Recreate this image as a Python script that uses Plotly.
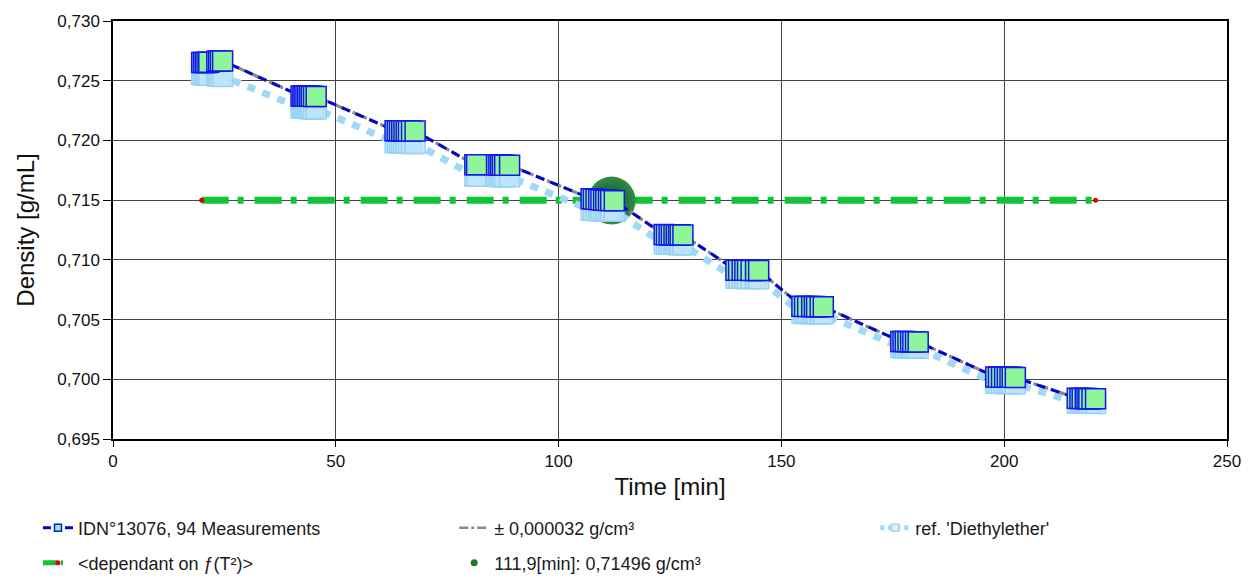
import plotly.graph_objects as go

# ---------------- data ----------------
meas_time = [
    19.9, 20.3, 20.7, 21.1, 21.5, 23.3, 23.7, 24.1, 24.6,
    42.2, 42.6, 42.9, 43.3, 43.7, 44.1, 44.5, 45.0, 45.6,
    63.3, 63.8, 64.3, 64.8, 65.3, 65.8, 66.3, 67.0, 67.8,
    81.2, 81.6, 86.1, 86.6, 87.0, 87.4, 87.9, 89.0,
    107.3, 107.8, 108.4, 109.0, 109.5, 110.1, 110.6, 111.2, 111.7, 112.5,
    123.7, 124.2, 124.8, 125.3, 125.9, 126.4, 126.9, 127.3, 127.9,
    139.8, 140.4, 141.2, 141.8, 142.4, 143.2, 144.2, 144.9,
    154.6, 155.2, 155.9, 156.8, 157.4, 157.9, 158.7, 159.4,
    176.8, 177.3, 177.8, 178.4, 179.0, 179.5, 180.1, 180.7,
    198.1, 198.7, 199.4, 200.1, 200.7, 201.3, 201.8, 202.5,
    216.4, 217.0, 217.5, 218.2, 218.6, 219.0, 219.7, 220.5,
]
meas_density = [
    0.72652, 0.72652, 0.72653, 0.72653, 0.72654, 0.72664, 0.72665, 0.72665, 0.72666,
    0.72372, 0.72371, 0.72371, 0.72370, 0.72370, 0.72369, 0.72369, 0.72368, 0.72368,
    0.72082, 0.72081, 0.72081, 0.72080, 0.72080, 0.72079, 0.72079, 0.72078, 0.72078,
    0.71796, 0.71796, 0.71794, 0.71794, 0.71793, 0.71793, 0.71792, 0.71792,
    0.71512, 0.71510, 0.71508, 0.71506, 0.71504, 0.71502, 0.71500, 0.71498, 0.71497, 0.71494,
    0.71212, 0.71211, 0.71211, 0.71210, 0.71210, 0.71209, 0.71209, 0.71208, 0.71208,
    0.70914, 0.70913, 0.70913, 0.70912, 0.70912, 0.70911, 0.70911, 0.70910,
    0.70611, 0.70610, 0.70610, 0.70609, 0.70609, 0.70608, 0.70608, 0.70607,
    0.70317, 0.70316, 0.70316, 0.70315, 0.70315, 0.70314, 0.70314, 0.70313,
    0.70019, 0.70018, 0.70018, 0.70017, 0.70017, 0.70016, 0.70016, 0.70015,
    0.69841, 0.69840, 0.69840, 0.69839, 0.69839, 0.69838, 0.69838, 0.69837,
]
ref_density = [
    0.72552, 0.72550, 0.72549, 0.72547, 0.72546, 0.72541, 0.72540, 0.72538, 0.72536,
    0.72272, 0.72271, 0.72270, 0.72269, 0.72268, 0.72267, 0.72266, 0.72265, 0.72264,
    0.71982, 0.71981, 0.71980, 0.71979, 0.71978, 0.71977, 0.71976, 0.71975, 0.71974,
    0.71702, 0.71701, 0.71700, 0.71699, 0.71698, 0.71697, 0.71696, 0.71695,
    0.71416, 0.71415, 0.71414, 0.71413, 0.71412, 0.71411, 0.71410, 0.71409, 0.71408, 0.71407,
    0.71134, 0.71133, 0.71132, 0.71131, 0.71130, 0.71129, 0.71128, 0.71127, 0.71126,
    0.70846, 0.70845, 0.70845, 0.70844, 0.70844, 0.70843, 0.70843, 0.70842,
    0.70552, 0.70551, 0.70551, 0.70550, 0.70550, 0.70549, 0.70549, 0.70548,
    0.70266, 0.70265, 0.70265, 0.70264, 0.70264, 0.70263, 0.70263, 0.70262,
    0.69967, 0.69966, 0.69966, 0.69965, 0.69965, 0.69964, 0.69964, 0.69963,
    0.69802, 0.69801, 0.69801, 0.69800, 0.69800, 0.69799, 0.69799, 0.69798,
]
tolerance = 0.000032
limit_time = [19.9, 220.5]
limit_density = [0.715, 0.715]
cross_time = [111.9]
cross_density = [0.71496]

x_ticks = [0, 50, 100, 150, 200, 250]
y_ticks = [0.695, 0.700, 0.705, 0.710, 0.715, 0.720, 0.725, 0.730]

name_meas = "IDN°13076, 94 Measurements"
name_tol = "± 0,000032 g/cm³"
name_ref = "ref. 'Diethylether'"
name_limit = "&lt;dependant on ƒ(T²)&gt;"
name_cross = "111,9[min]: 0,71496 g/cm³"

# ---------------- styles ----------------
FONT = "Liberation Sans, Arial, sans-serif"
BLUE = "#0505d0"
MEAS_FILL = "#8ef59a"
MEAS_EDGE = "#1515f0"
REF_LINE = "#a0d8f7"
GREEN = "#12c238"

fig = go.Figure()

# limit line (drawn first, underneath)
fig.add_trace(go.Scatter(
    x=limit_time, y=limit_density, mode="lines+markers",
    line=dict(color=GREEN, width=7, dash="27px,9px,6px,11px"),
    marker=dict(color="#e00000", size=5, symbol="circle"),
    showlegend=False, hoverinfo="skip"))

# crossing point
fig.add_trace(go.Scatter(
    x=cross_time, y=cross_density, mode="markers",
    marker=dict(symbol="circle", size=48, color="#358a47",
                gradient=dict(type="radial", color="#0a5818"),
                line=dict(width=0)),
    showlegend=False))

# reference
fig.add_trace(go.Scatter(
    x=meas_time, y=ref_density, mode="lines+markers",
    line=dict(color=REF_LINE, width=7, dash="8px,8px"),
    marker=dict(symbol="square", size=20, color="rgba(190,228,251,0.8)",
                line=dict(color="rgba(145,207,245,0.9)", width=1.5)),
    showlegend=False))

# tolerance band (practically on top of the measurement line)
tol_x = meas_time + [None] + meas_time
tol_y = [v + tolerance for v in meas_density] + [None] + [v - tolerance for v in meas_density]
fig.add_trace(go.Scatter(
    x=tol_x, y=tol_y, mode="lines",
    line=dict(color="#8a8a8a", width=2.5, dash="dashdot"),
    showlegend=False, connectgaps=False))

# measurements
fig.add_trace(go.Scatter(
    x=meas_time, y=meas_density, mode="lines+markers",
    line=dict(color=BLUE, width=3, dash="9px,6px"),
    marker=dict(symbol="square", size=20, color=MEAS_FILL,
                line=dict(color=MEAS_EDGE, width=1.5)),
    showlegend=False))

# ---------------- legend entries (one legend per slot) ----------------
fig.add_trace(go.Scatter(
    x=[None], y=[None], mode="lines+markers", name=name_meas, legend="legend",
    line=dict(color=BLUE, width=3, dash="8px,3px"),
    marker=dict(symbol="square", size=7, color=MEAS_FILL, line=dict(color=MEAS_EDGE, width=1.5))))
fig.add_trace(go.Scatter(
    x=[None], y=[None], mode="lines", name=name_tol, legend="legend2",
    line=dict(color="#8a8a8a", width=2.5, dash="dashdot")))
fig.add_trace(go.Scatter(
    x=[None], y=[None], mode="lines+markers", name=name_ref, legend="legend3",
    line=dict(color=REF_LINE, width=5, dash="4px,4px"),
    marker=dict(symbol="square", size=7, color="#dff2fd", line=dict(color=REF_LINE, width=1.5))))
fig.add_trace(go.Scatter(
    x=[None], y=[None], mode="lines+markers", name=name_limit, legend="legend4",
    line=dict(color=GREEN, width=5, dash="14px,4px,2px,20px"),
    marker=dict(symbol="circle", size=5, color="#e00000")))
fig.add_trace(go.Scatter(
    x=[None], y=[None], mode="markers", name=name_cross, legend="legend5",
    marker=dict(symbol="circle", size=7, color="#1a7a2a")))


def slot(xc, yc):
    return dict(
        orientation="h", x=xc, y=yc, xref="container", yref="container",
        xanchor="left", yanchor="middle",
        font=dict(family=FONT, size=18, color="#1a1a1a"),
        bgcolor="rgba(0,0,0,0)", borderwidth=0)


row1, row2 = 0.088, 0.0276
col1, col2, col3 = 0.0303, 0.3625, 0.6985

fig.update_layout(
    width=1253, height=579,
    margin=dict(l=113, r=21, t=17, b=140, pad=0),
    paper_bgcolor="white", plot_bgcolor="white",
    separators=", ",
    font=dict(family=FONT, color="#111"),
    legend=slot(col1, row1),
    legend2=slot(col2, row1),
    legend3=slot(col3, row1),
    legend4=slot(col1, row2),
    legend5=slot(col2, row2),
    xaxis=dict(
        range=[0, 250], tickvals=x_ticks, tickformat="d",
        showgrid=True, gridcolor="#444", gridwidth=1,
        showline=True, linecolor="#000", linewidth=1.5, mirror=True,
        ticks="outside", ticklen=6, tickcolor="#000",
        tickfont=dict(size=17, family=FONT, color="#111"),
        zeroline=False,
        title=dict(text="Time [min]", font=dict(size=24, family=FONT, color="#111"), standoff=8),
    ),
    yaxis=dict(
        range=[0.695, 0.730], tickvals=y_ticks, tickformat=".3f",
        showgrid=True, gridcolor="#444", gridwidth=1,
        showline=True, linecolor="#000", linewidth=1.5, mirror=True,
        ticks="outside", ticklen=8, tickcolor="#000",
        tickfont=dict(size=17, family=FONT, color="#111"),
        zeroline=False,
        title=dict(text="Density [g/mL]", font=dict(size=24, family=FONT, color="#111"), standoff=16),
    ),
)

fig.write_html("out.html", config={"displayModeBar": False},
               post_script="document.body.style.margin='0';document.body.style.overflow='hidden';")
